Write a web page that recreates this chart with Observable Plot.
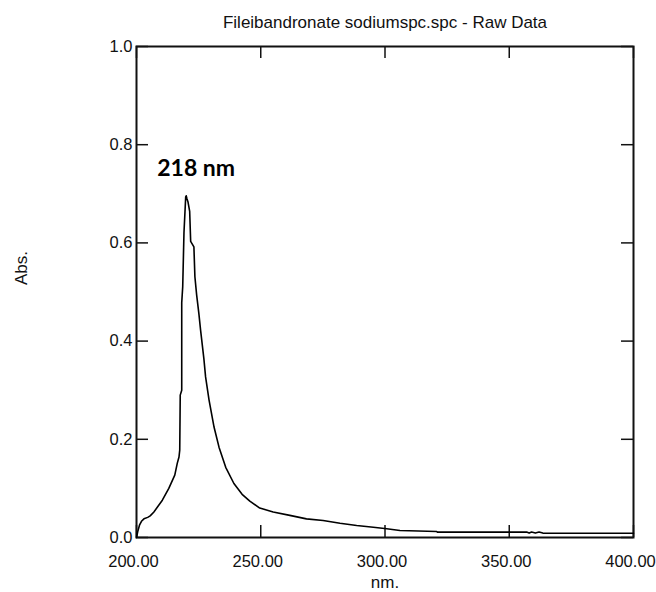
<!DOCTYPE html>
<html>
<head>
<meta charset="utf-8">
<script src="https://cdn.jsdelivr.net/npm/d3@7"></script>
<script src="https://cdn.jsdelivr.net/npm/@observablehq/plot@0.6"></script>
<style>
  html, body { margin: 0; padding: 0; background: #fff; }
</style>
</head>
<body>
<div id="chart"></div>
<script>
const title = "Fileibandronate sodiumspc.spc - Raw Data";
const xLabel = "nm.";
const yLabel = "Abs.";
const peakLabel = ["218 nm"];
const peakLabelPos = [{nm: 224, abs: 0.752}];

const xTicks = [200, 250, 300, 350, 400];
const yTicks = [0, 0.2, 0.4, 0.6, 0.8, 1.0];

const wavelength = [
  200, 200.5, 201.2, 202, 203, 204.5, 205.5, 207, 210.4, 213, 215.4, 216.4, 217.1, 217.4,
  217.6, 218.2, 218.2, 218.6, 219.1, 219.8, 220.0, 220.3, 220.7, 221.4,
  221.8, 223.1, 223.5, 224.2, 225.1, 225.8, 227.1, 227.8, 229.2, 231.2,
  233.2, 235.9, 239.2, 242.5, 245.6, 249.6, 255, 261.7, 268.4, 275.1,
  281.9, 288.6, 295.3, 300.7, 306, 320.8, 321, 357, 358, 359, 360.5, 362,
  363.5, 365, 400
];
const absorbance = [
  0.0, 0.012, 0.025, 0.033, 0.038, 0.041, 0.044, 0.052, 0.076, 0.10, 0.127, 0.151, 0.164, 0.178,
  0.29, 0.30, 0.478, 0.511, 0.62, 0.694, 0.696, 0.69, 0.684, 0.664,
  0.603, 0.592, 0.531, 0.494, 0.456, 0.422, 0.365, 0.327, 0.28, 0.225,
  0.184, 0.143, 0.11, 0.088, 0.074, 0.06, 0.052, 0.045, 0.038, 0.0347,
  0.029, 0.0245, 0.021, 0.0177, 0.0143, 0.0122, 0.011, 0.011, 0.009, 0.011, 0.009, 0.011,
  0.009, 0.0088, 0.0088
];

const data = wavelength.map((nm, i) => ({nm, abs: absorbance[i]}));

const W = 656, H = 592;
const mL = 136, mR = 23, mT = 46, mB = 55;
const fw = W - mL - mR, fh = H - mT - mB;
const tickLen = 12;
const font = "'Liberation Sans', Arial, sans-serif";

const chart = Plot.plot({
  width: W,
  height: H,
  marginLeft: mL,
  marginRight: mR,
  marginTop: mT,
  marginBottom: mB,
  style: {fontFamily: font, fontSize: "16.5px", color: "#111", background: "#fff"},
  x: {domain: [200, 400], ticks: xTicks, label: null},
  y: {domain: [0, 1], ticks: yTicks, label: null},
  marks: [
    Plot.axisX({ticks: xTicks, tickSize: 0, tickPadding: 18, dx: -3, tickFormat: d3.format(".2f"), label: null, fontSize: 16.5}),
    Plot.axisY({ticks: yTicks, tickSize: 0, tickPadding: 4, tickFormat: d3.format(".1f"), label: null, fontSize: 16.5}),
    // inward ticks on all four sides
    Plot.ruleX(xTicks, {insetTop: fh - tickLen, stroke: "#111", strokeWidth: 1.5}),
    Plot.ruleX(xTicks, {insetBottom: fh - tickLen, stroke: "#111", strokeWidth: 1.5}),
    Plot.ruleY(yTicks, {insetRight: fw - tickLen, stroke: "#111", strokeWidth: 1.5}),
    Plot.ruleY(yTicks, {insetLeft: fw - tickLen, stroke: "#111", strokeWidth: 1.5}),
    Plot.frame({stroke: "#111", strokeWidth: 2}),
    Plot.line(data, {x: "nm", y: "abs", stroke: "#000", strokeWidth: 1.6}),
    Plot.text(peakLabel, {x: () => peakLabelPos[0].nm, y: () => peakLabelPos[0].abs, text: d => d,
      fontFamily: "Lato, 'Open Sans', sans-serif", fontWeight: "bold", fontSize: 23, fill: "#000", textAnchor: "middle"}),
    Plot.text([title], {frameAnchor: "top", dy: -24, text: d => d, fontSize: 17, fill: "#111", lineAnchor: "middle"}),
    Plot.text([xLabel], {frameAnchor: "bottom", dy: 45, text: d => d, fontSize: 17, fill: "#111", lineAnchor: "middle"}),
    Plot.text([yLabel], {frameAnchor: "left", dx: -115, dy: -7, rotate: -90, text: d => d, fontSize: 17, fill: "#111", lineAnchor: "middle"})
  ]
});

document.getElementById("chart").appendChild(chart);
</script>
</body>
</html>
